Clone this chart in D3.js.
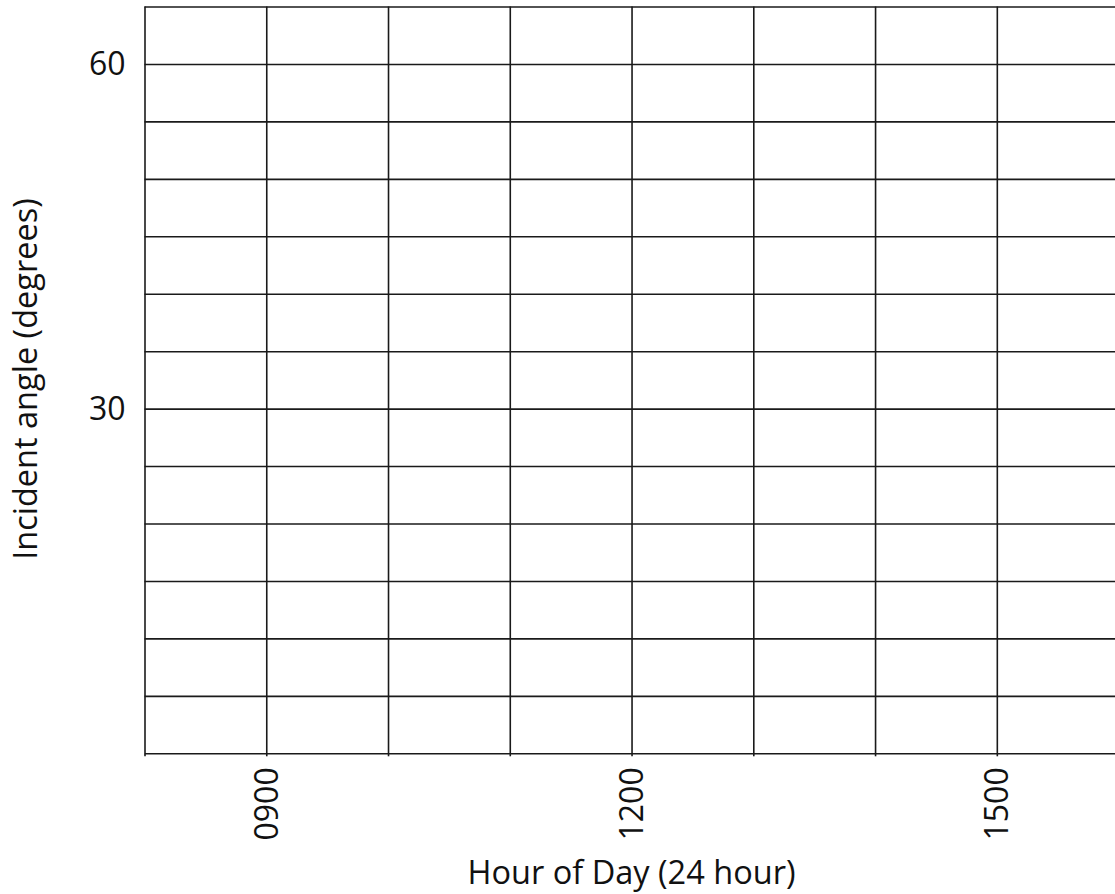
<!DOCTYPE html>
<html>
<head>
<meta charset="utf-8">
<script src="https://cdn.jsdelivr.net/npm/d3@7"></script>
<style>
  html, body { margin: 0; padding: 0; background: #fff; }
  svg { display: block; }
  .grid line, .grid path { stroke: #1a1a1a; stroke-width: 1.6px; }
  text { font-family: "Open Sans", "Lato", sans-serif; fill: #111; }
</style>
</head>
<body>
<div id="chart"></div>
<script>
// Hours shown on the x axis (24 hour clock) and the gridline hours
const hourGrid = [8, 9, 10, 11, 12, 13, 14, 15, 16];
const hourLabels = { 9: '0900', 12: '1200', 15: '1500' };
// Incident angle gridlines (degrees) and labelled ones
const angleGrid = [0, 5, 10, 15, 20, 25, 30, 35, 40, 45, 50, 55, 60, 65];
const angleLabels = [30, 60];
const xTitle = 'Hour of Day (24 hour)';
const yTitle = 'Incident angle (degrees)';

const W = 1115, H = 894;
const margin = { top: 6.5, left: 144.5 };
const hourWidth = 121.76;
const plotW = hourWidth * (hourGrid.length - 1);
const plotH = 753.3 - margin.top;

const svg = d3.select('#chart')
    .append('svg')
    .attr('width', W)
    .attr('height', H);

const g = svg.append('g')
    .attr('transform', `translate(${margin.left},${margin.top})`);

const x = d3.scaleLinear()
    .domain([d3.min(hourGrid), d3.max(hourGrid)])
    .range([0, plotW]);

const y = d3.scaleLinear()
    .domain([0, d3.max(angleGrid)])
    .range([plotH, 0]);

// Horizontal gridlines
g.append('g')
    .attr('class', 'grid')
    .call(d3.axisLeft(y)
        .tickValues(angleGrid)
        .tickSize(-plotW)
        .tickFormat(''))
    .call(s => s.select('.domain').remove());

// Vertical gridlines
g.append('g')
    .attr('class', 'grid')
    .call(d3.axisBottom(x)
        .tickValues(hourGrid)
        .tickSize(plotH)
        .tickFormat(''))
    .call(s => s.select('.domain').remove());

// Little ticks below the bottom edge
g.append('g')
    .attr('class', 'grid')
    .attr('transform', `translate(0,${plotH})`)
    .call(d3.axisBottom(x)
        .tickValues(hourGrid)
        .tickSize(3)
        .tickFormat(''))
    .call(s => s.select('.domain').remove());

// Y tick labels
g.selectAll('.y-label')
    .data(angleLabels)
    .enter()
    .append('text')
    .attr('class', 'y-label')
    .attr('x', -19)
    .attr('y', d => y(d))
    .attr('dy', '0.36em')
    .attr('text-anchor', 'end')
    .style('font-size', '32px')
    .text(d => d);

// X tick labels (rotated)
g.selectAll('.x-label')
    .data(hourGrid.filter(h => hourLabels[h]))
    .enter()
    .append('text')
    .attr('class', 'x-label')
    .attr('transform', d => `translate(${x(d)},${plotH + 14}) rotate(-90)`)
    .attr('dy', '0.36em')
    .attr('text-anchor', 'end')
    .style('font-size', '32px')
    .text(d => hourLabels[d]);

// Axis titles
svg.append('text')
    .attr('x', margin.left + x(12))
    .attr('y', 884)
    .attr('text-anchor', 'middle')
    .style('font-size', '32.5px')
    .text(xTitle);

svg.append('text')
    .attr('transform', `translate(37,379) rotate(-90)`)
    .attr('text-anchor', 'middle')
    .style('font-size', '32.5px')
    .text(yTitle);
</script>
</body>
</html>
